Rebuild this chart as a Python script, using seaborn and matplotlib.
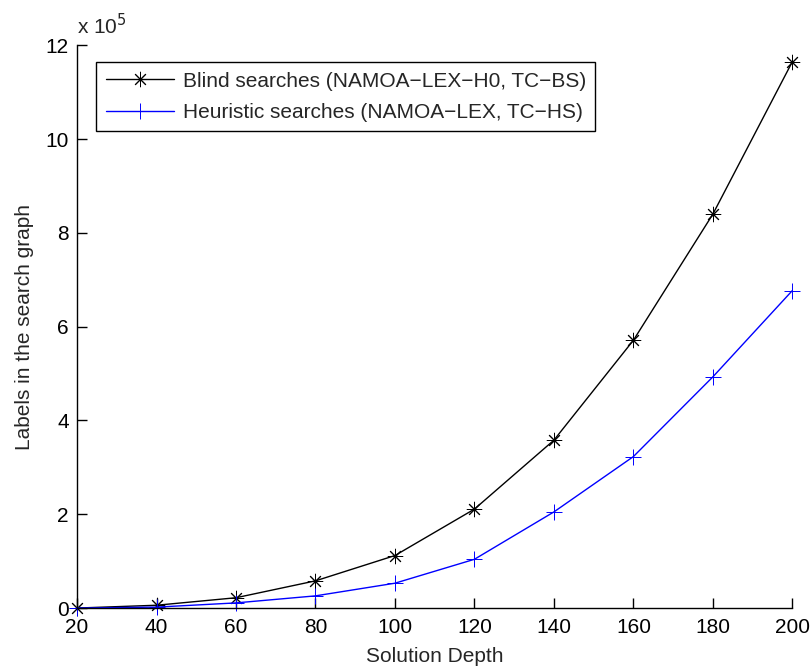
import matplotlib
matplotlib.use("Agg")
import matplotlib.pyplot as plt
import seaborn as sns
import pandas as pd

depth = [20, 40, 60, 80, 100, 120, 140, 160, 180, 200]
blind = [0.0, 0.06, 0.22, 0.58, 1.12, 2.11, 3.58, 5.71, 8.40, 11.65]
heuristic = [0.0, 0.02, 0.11, 0.26, 0.53, 1.04, 2.05, 3.23, 4.93, 6.77]
series_names = ["Blind searches (NAMOA\u2212LEX\u2212H0, TC\u2212BS)",
                "Heuristic searches (NAMOA\u2212LEX, TC\u2212HS)"]
series_colors = ["black", "blue"]
x_ticks = [20, 40, 60, 80, 100, 120, 140, 160, 180, 200]
y_ticks = [0, 2, 4, 6, 8, 10, 12]

sns.set_theme(style="white")
plt.rcParams['font.family'] = ['Liberation Sans', 'DejaVu Sans']

df = pd.DataFrame({
    "depth": depth * 2,
    "labels": blind + heuristic,
    "series": [series_names[0]] * len(depth) + [series_names[1]] * len(depth),
})

fig = plt.figure(figsize=(8.11, 6.66), dpi=100)
ax = fig.add_axes([0.095, 0.087, 0.882, 0.845])

palette = dict(zip(series_names, series_colors))
sns.lineplot(data=df, x="depth", y="labels", hue="series", style="series",
             palette=palette,
             markers={series_names[0]: (8, 2, 0), series_names[1]: "+"},
             dashes=False, markersize=11, linewidth=1.0, ax=ax)
for line in ax.lines:
    c = line.get_color()
    line.set_markeredgecolor(c)
    line.set_markerfacecolor('none')
    line.set_markeredgewidth(0.7)
    line.set_clip_on(False)

ax.set_xlim(20, 200)
ax.set_ylim(0, 12)
ax.set_xticks(x_ticks)
ax.set_yticks(y_ticks)
ax.tick_params(direction="in", length=7, width=1, labelsize=15, colors="black",
               left=True, bottom=True)
ax.tick_params(axis="x", pad=7)
ax.tick_params(axis="y", pad=6)
for s in ["top", "right"]:
    ax.spines[s].set_visible(False)
for s in ["left", "bottom"]:
    ax.spines[s].set_color("black")
    ax.spines[s].set_linewidth(1)

ax.set_xlabel("Solution Depth", fontsize=15, labelpad=7)
ax.set_ylabel("Labels in the search graph", fontsize=15, labelpad=8)
ax.text(0.0, 1.012, "x 10$^{5}$", transform=ax.transAxes, fontsize=15,
        ha="left", va="bottom")

leg = ax.legend(loc="upper left", bbox_to_anchor=(0.027, 0.97), fontsize=15,
                frameon=True, fancybox=False, edgecolor="black", framealpha=1,
                handlelength=3.3, borderpad=0.45, labelspacing=0.6,
                handletextpad=0.4, borderaxespad=0)
leg.get_frame().set_linewidth(1.0)
for h in leg.legend_handles:
    h.set_markeredgecolor(h.get_color())
    h.set_markerfacecolor('none')
    h.set_markeredgewidth(0.7)

fig.savefig("out.png", dpi=100)
